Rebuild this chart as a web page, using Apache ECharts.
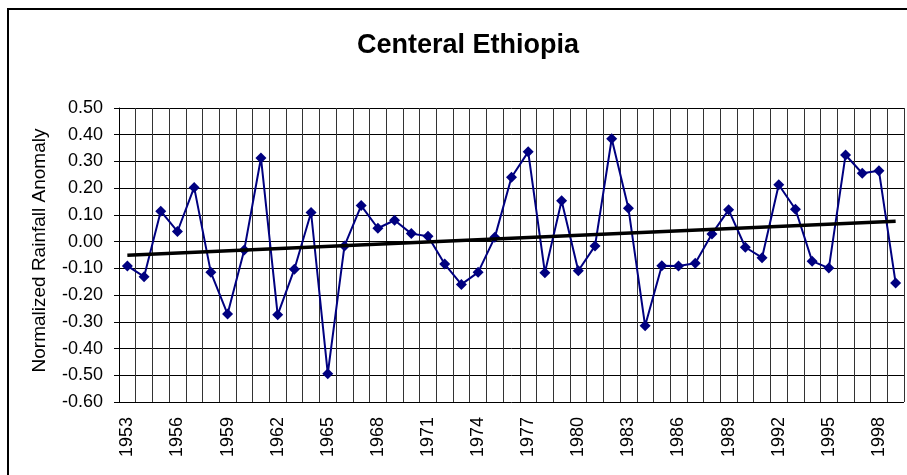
<!DOCTYPE html>
<html>
<head>
<meta charset="UTF-8">
<title>Centeral Ethiopia</title>
<script type="text/javascript" src="https://cdn.jsdelivr.net/npm/echarts@6/dist/echarts.min.js"></script>
<style>
  html, body { margin: 0; padding: 0; background: #fff; }
</style>
</head>
<body>
	<div id="div1" style="width:907px;height:475px"></div>
	<script type="text/javascript">
	var years = ['1953','1954','1955','1956','1957','1958','1959','1960','1961','1962',
		'1963','1964','1965','1966','1967','1968','1969','1970','1971','1972',
		'1973','1974','1975','1976','1977','1978','1979','1980','1981','1982',
		'1983','1984','1985','1986','1987','1988','1989','1990','1991','1992',
		'1993','1994','1995','1996','1997','1998','1999'];

	var anomaly = [-0.091, -0.131, 0.114, 0.038, 0.203, -0.115, -0.271, -0.031, 0.313, -0.274,
		-0.103, 0.109, -0.494, -0.016, 0.135, 0.050, 0.080, 0.030, 0.020, -0.084,
		-0.160, -0.115, 0.016, 0.241, 0.336, -0.116, 0.153, -0.109, -0.016, 0.385,
		0.125, -0.315, -0.090, -0.091, -0.081, 0.029, 0.119, -0.021, -0.060, 0.213,
		0.121, -0.073, -0.099, 0.324, 0.256, 0.265, -0.155];

	// linear trend, read at first and last year
	var trendEnds = [-0.051, 0.076];

	var trend = years.map(function (y, i) {
		if (i === 0) return trendEnds[0];
		if (i === years.length - 1) return trendEnds[1];
		return null;
	});

	var font = "'Liberation Sans', Arial, sans-serif";
	var myChart = echarts.init(document.getElementById('div1'));

	var option = {
		animation: false,
		title: {
			text: 'Centeral Ethiopia',
			left: 463,
			top: 27,
			textAlign: 'center',
			textStyle: { fontFamily: font, fontSize: 27, fontWeight: 'bold', color: '#000' }
		},
		graphic: [{
			type: 'rect',
			shape: { x: 8, y: 9, width: 920, height: 490 },
			style: { fill: null, stroke: '#000', lineWidth: 2 },
			silent: true
		}],
		grid: { left: 119, right: 3, top: 108, bottom: 73 },
		xAxis: {
			type: 'category',
			data: years,
			boundaryGap: true,
			axisLine: { lineStyle: { color: '#000', width: 1 } },
			axisTick: { show: false, interval: 0 },
			axisLabel: {
				interval: 2, rotate: 90, margin: 15,
				fontFamily: font, fontSize: 18, color: '#000'
			},
			splitLine: { show: true, interval: 0, lineStyle: { color: '#333', width: 1 } }
		},
		yAxis: {
			type: 'value',
			min: -0.6,
			max: 0.5,
			interval: 0.1,
			name: 'Normalized Rainfall Anomaly',
			nameLocation: 'middle',
			nameGap: 70,
			nameTextStyle: { fontFamily: font, fontSize: 19, color: '#000', padding: [0, 0, 0, 9] },
			axisLine: { show: true, lineStyle: { color: '#000', width: 1 } },
			axisTick: { show: true, length: 5, lineStyle: { color: '#000' } },
			axisLabel: {
				margin: 16, fontFamily: font, fontSize: 18, color: '#000',
				formatter: function (v) { return v.toFixed(2); }
			},
			splitLine: { show: true, lineStyle: { color: '#000', width: 1 } }
		},
		series: [
			{
				name: 'Anomaly',
				type: 'line',
				data: anomaly,
				symbol: 'diamond',
				symbolSize: 11,
				lineStyle: { color: '#000080', width: 2 },
				itemStyle: { color: '#000080' },
				z: 3
			},
			{
				name: 'Trend',
				type: 'line',
				data: trend,
				connectNulls: true,
				symbol: 'none',
				lineStyle: { color: '#000', width: 3.5 },
				z: 4
			}
		]
	};
	myChart.setOption(option);
	</script>
</body>
</html>
